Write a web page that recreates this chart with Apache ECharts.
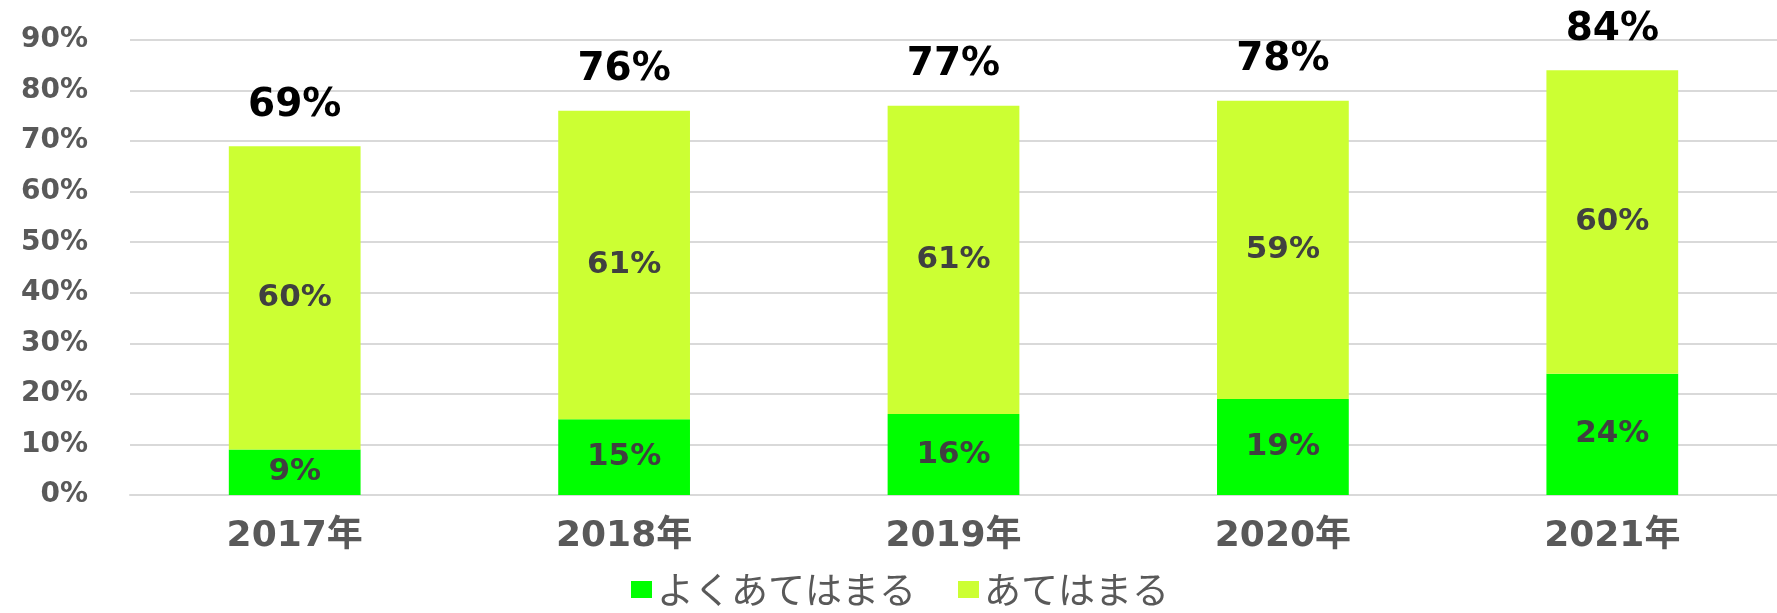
<!DOCTYPE html>
<html>
<head>
<meta charset="utf-8">
<script src="https://cdn.jsdelivr.net/npm/echarts@6/dist/echarts.min.js"></script>
<style>
html,body{margin:0;padding:0;background:#fff;}
#chart{width:1777px;height:613px;}
</style>
</head>
<body>
<div id="chart"></div>
<script>
const categories = ['2017年', '2018年', '2019年', '2020年', '2021年'];
const seriesNames = ['よくあてはまる', 'あてはまる'];
const veryTrue = [9, 15, 16, 19, 24];
const somewhatTrue = [60, 61, 61, 59, 60];
const totals = [69, 76, 77, 78, 84];

const numFont = '"DejaVu Sans", "Noto Sans CJK JP", sans-serif';
const chart = echarts.init(document.getElementById('chart'));
chart.setOption({
  animation: false,
  backgroundColor: '#ffffff',
  grid: { left: 130, right: -9, top: 40, bottom: 118 },
  legend: {
    data: seriesNames,
    left: 626,
    bottom: 0,
    icon: 'rect',
    itemWidth: 21,
    itemHeight: 17,
    itemGap: 42,
    textStyle: { fontSize: 37, color: '#595959', fontFamily: '"Noto Sans CJK JP", sans-serif' }
  },
  xAxis: {
    type: 'category',
    data: categories,
    axisLine: { show: true, lineStyle: { color: '#D9D9D9', width: 2 } },
    axisTick: { show: false },
    axisLabel: { margin: 24, fontSize: 36, fontWeight: 'bold', color: '#595959', fontFamily: numFont }
  },
  yAxis: {
    type: 'value',
    min: 0,
    max: 90,
    interval: 10,
    axisLine: { show: false },
    axisTick: { show: false },
    splitLine: { lineStyle: { color: '#D9D9D9', width: 2 } },
    axisLabel: { margin: 42, fontSize: 28, fontWeight: 'bold', color: '#595959', fontFamily: numFont, formatter: '{value}%' }
  },
  series: [
    {
      name: seriesNames[0], type: 'bar', stack: 'a', data: veryTrue, barWidth: '40%',
      itemStyle: { color: '#00FF00' },
      label: { show: true, position: 'inside', formatter: '{c}%', fontSize: 31, fontWeight: 'bold', color: '#404040', fontFamily: numFont }
    },
    {
      name: seriesNames[1], type: 'bar', stack: 'a', data: somewhatTrue, barWidth: '40%',
      itemStyle: { color: '#CCFF33' },
      label: { show: true, position: 'inside', formatter: '{c}%', fontSize: 31, fontWeight: 'bold', color: '#404040', fontFamily: numFont }
    },
    {
      name: '合計', type: 'line', data: totals, symbol: 'circle', symbolSize: 0,
      lineStyle: { opacity: 0 }, silent: true,
      label: { show: true, position: 'top', distance: 21, formatter: '{c}%', fontSize: 39, fontWeight: 'bold', color: '#000000', fontFamily: numFont }
    }
  ]
});
</script>
</body>
</html>
